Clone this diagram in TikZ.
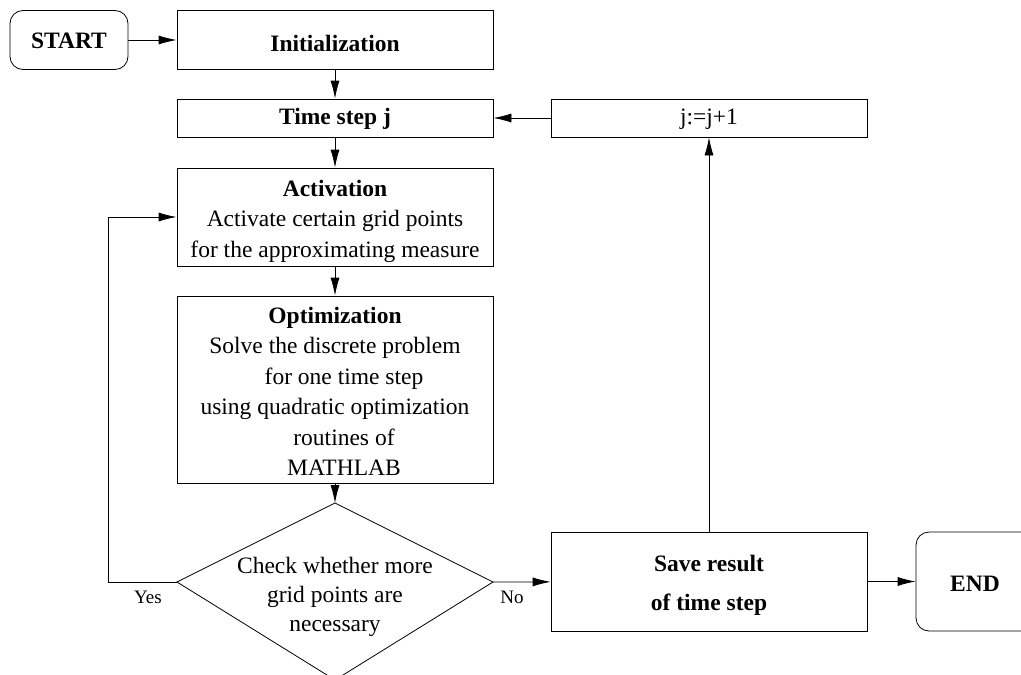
\documentclass[tikz,border=0pt]{standalone}
\usepackage{fontspec}
\setmainfont{Liberation Serif}
\usetikzlibrary{arrows.meta}
\begin{document}
\begin{tikzpicture}[x=1pt,y=-1pt,
  box/.style={draw,line width=0.8pt,inner sep=0pt,minimum width=316pt},
  term/.style={draw,line width=0.8pt,rounded corners=13pt,inner sep=0pt,minimum width=118pt},
  txt/.style={inner sep=0pt,align=center,font=\fontsize{23.5}{30.5}\selectfont},
  btxt/.style={txt,font=\fontsize{23.5}{30.5}\selectfont\bfseries},
  conn/.style={line width=0.8pt,-{Latex[length=18pt,width=9pt]}},
  lbl/.style={font=\fontsize{19}{22}\selectfont,inner sep=0pt}]
\useasboundingbox (0,0) rectangle (1021,675);
\clip (0,0) rectangle (1021,675);
% boxes
\node[term,minimum height=59pt] (start) at (69,40) {};
\node[box,minimum height=59pt] (init) at (335,40) {};
\node[box,minimum height=38pt] (tstep) at (335,118) {};
\node[box,minimum height=38pt] (inc) at (709,118) {};
\node[box,minimum height=98pt] (act) at (335,217) {};
\node[box,minimum height=187pt] (opt) at (335,389.5) {};
\coordinate (dtop) at (335,503);
\coordinate (dleft) at (177,582);
\coordinate (dright) at (493,582);
\coordinate (dbot) at (335,680);
\draw[line width=0.8pt] (dtop) -- (dright) -- (dbot) -- (dleft) -- cycle;
\node[box,minimum height=99pt] (save) at (709,581.5) {};
\node[term,minimum height=99pt] (end) at (975,581.5) {};
% texts
\node[btxt] (starttxt) at ([yshift=-1pt]start.center) {START};
\node[btxt] (inittxt) at ([yshift=-3pt]init.center) {Initialization};
\node[btxt] (tsteptxt) at ([yshift=-1pt]tstep.center) {Time step j};
\node[txt] (inctxt) at ([yshift=-1pt]inc.center) {j:=j+1};
\node[txt] (acttxt) at ([yshift=-4pt]act.center) {\textbf{Activation}\\Activate certain grid points\\for the approximating measure};
\node[txt] (opttxt) at ([yshift=-2pt]opt.center) {\textbf{Optimization}\\Solve the discrete problem\\\hspace*{18pt}for one time step\\using quadratic optimization\\\hspace*{18pt}routines of\\\hspace*{18pt}MATHLAB};
\node[txt,font=\fontsize{23.5}{29}\selectfont] (check) at (335,597) {Check whether more\\grid points are\\necessary};
\node[btxt,font=\fontsize{23.5}{39}\selectfont\bfseries] (savetxt) at ([yshift=-4pt]save.center) {Save result\\of time step};
\node[btxt] (endtxt) at ([yshift=-2pt]end.center) {END};
\node[lbl] (yes) at (148,597) {Yes};
\node[lbl] (no) at (512,597) {No};
% connectors
\draw[conn] (start) -- (init);
\draw[conn] (init) -- (tstep);
\draw[conn] (tstep) -- (act);
\draw[conn] (act) -- (opt);
\draw[conn] (opt) -- (dtop);
\draw[conn] (dright) -- (save);
\draw[conn] (save) -- (end);
\draw[conn] (save) -- (inc);
\draw[conn] (inc) -- (tstep);
\draw[conn] (dleft) -- ++(-69,0) |- (act.west);
\end{tikzpicture}
\end{document}
